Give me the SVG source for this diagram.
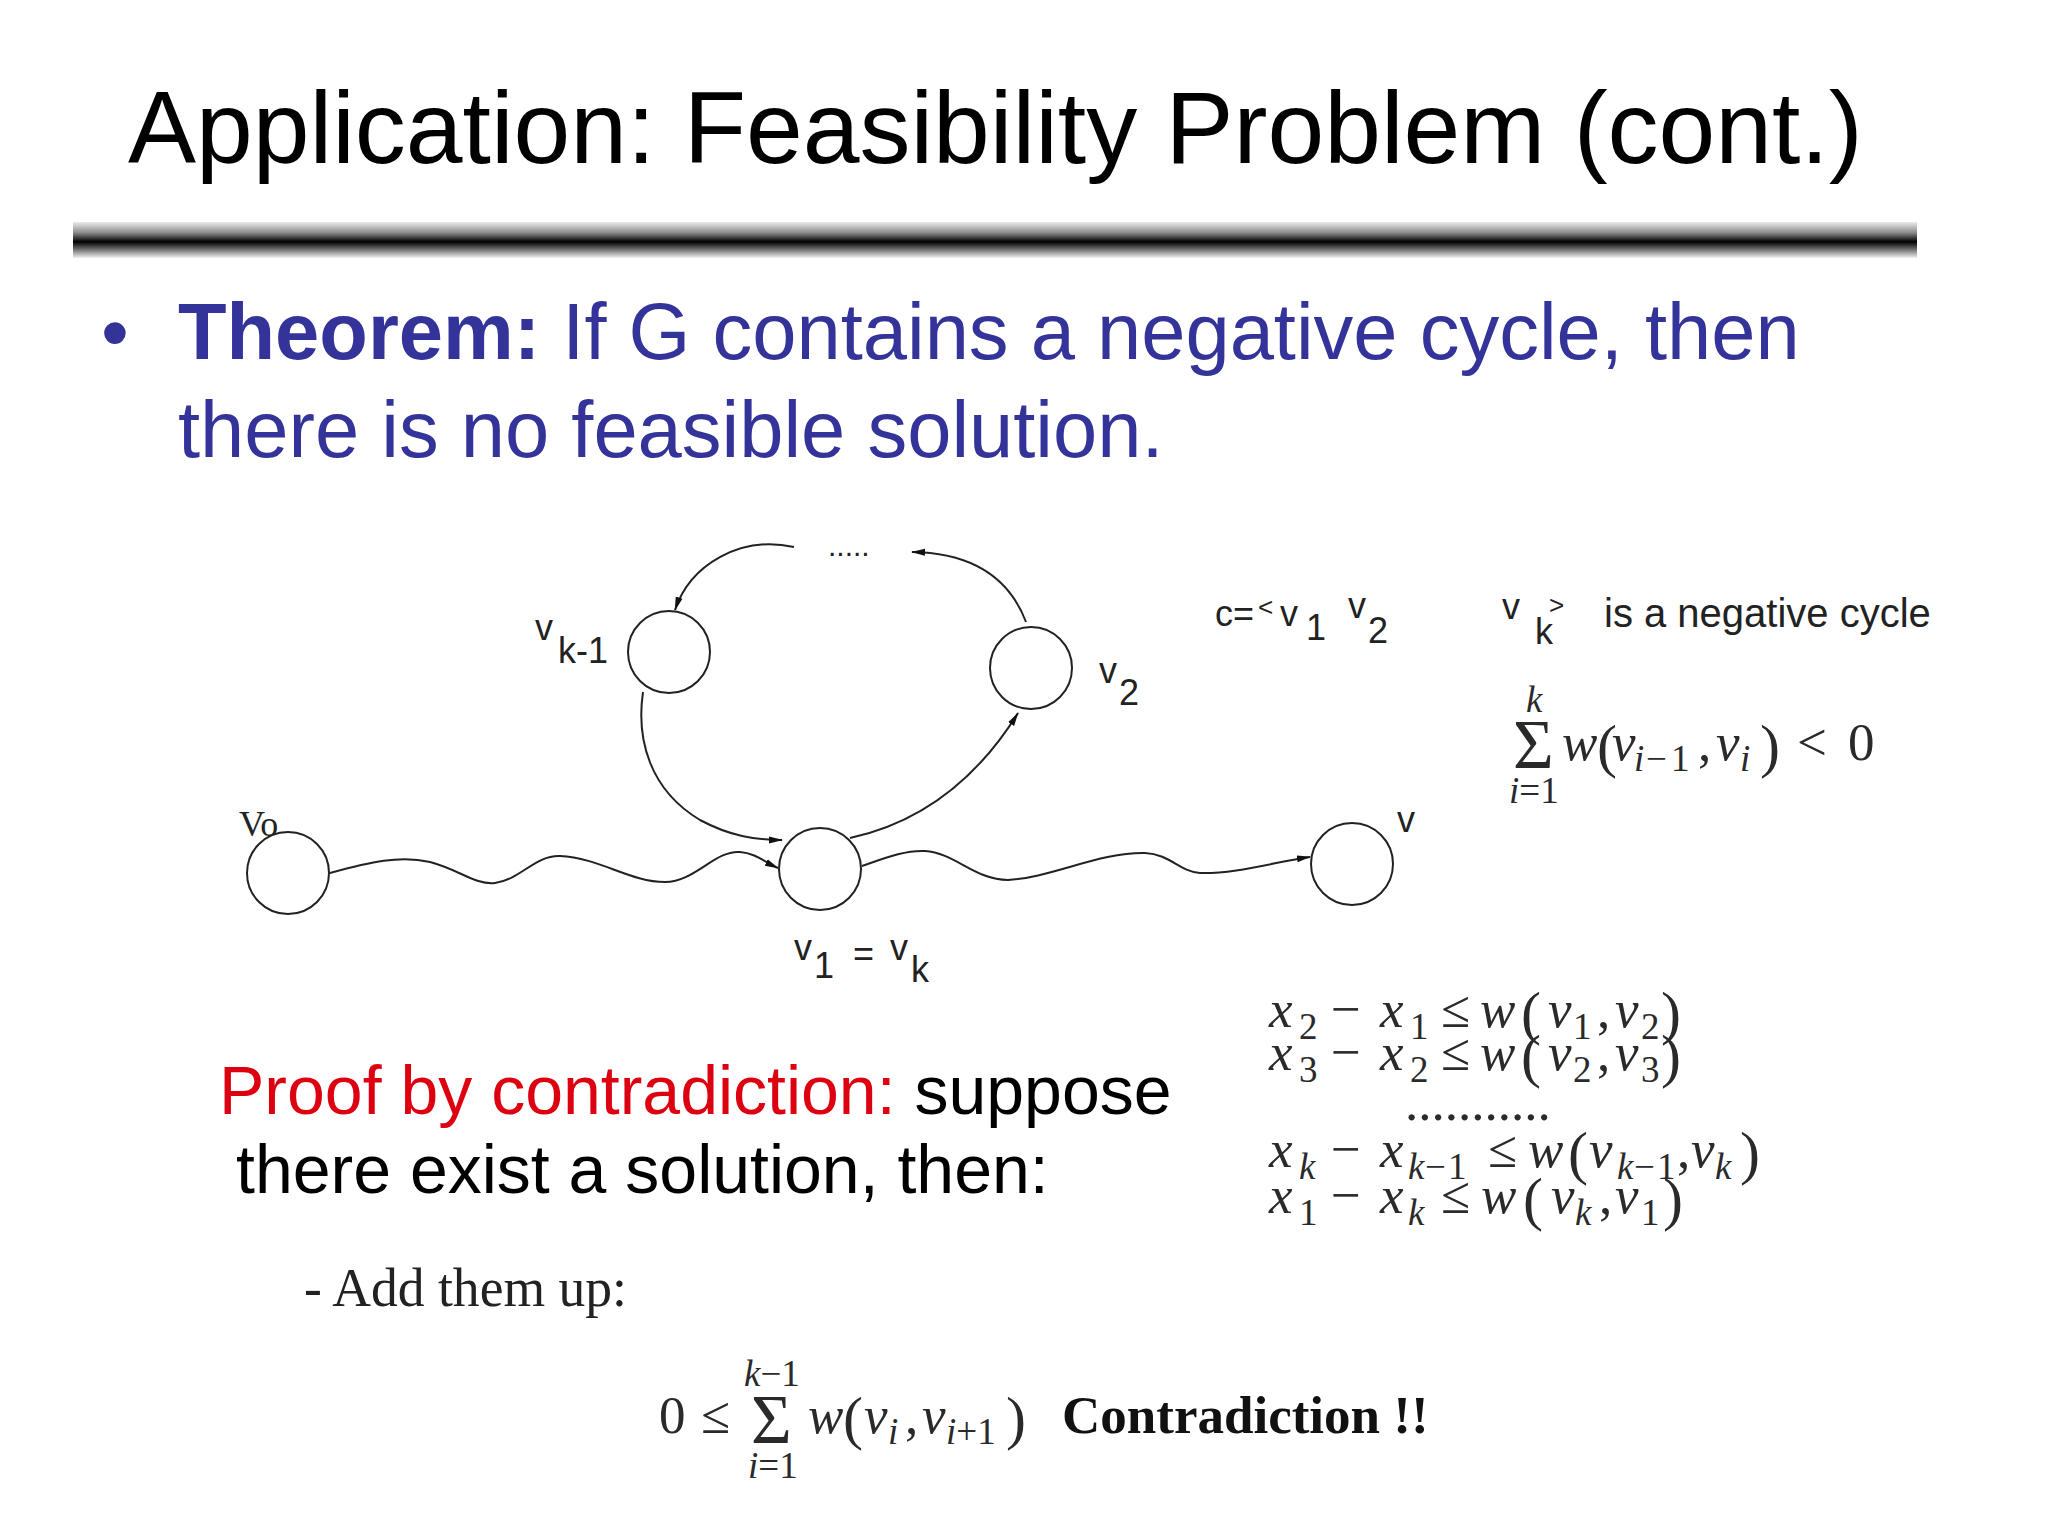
<svg xmlns="http://www.w3.org/2000/svg" width="2048" height="1536" viewBox="0 0 2048 1536">
<defs>
<linearGradient id="bar" x1="0" y1="0" x2="0" y2="1">
<stop offset="0" stop-color="#ececec"/>
<stop offset="0.3" stop-color="#8a8a8a"/>
<stop offset="0.55" stop-color="#000"/>
<stop offset="0.78" stop-color="#7a7a7a"/>
<stop offset="1" stop-color="#f2f2f2"/>
</linearGradient>
<marker id="arr" viewBox="0 0 14 10" refX="13" refY="5" markerWidth="14" markerHeight="10" markerUnits="userSpaceOnUse" orient="auto">
<path d="M0,1.5 L14,5 L0,8.5 z" fill="#111"/>
</marker>
</defs>
<style>
.sans{font-family:"Liberation Sans",Arial,sans-serif}
.serif{font-family:"Liberation Serif","Times New Roman",serif}
.title{font-size:102px;fill:#000}
.thm{font-size:79.5px;fill:#333399}
.proof{font-size:68px;fill:#000}
.lbl{font-size:36px;fill:#222}
.lbls{font-size:26px;fill:#222}
.m{font-size:53px;fill:#2a2a2a}
.i{font-style:italic}
.s{font-size:37px}
.p{font-size:60px}
.big{font-size:70px}
.node{fill:#fff;stroke:#222;stroke-width:2}
.edge{fill:none;stroke:#222;stroke-width:2}
</style>
<rect width="2048" height="1536" fill="#fff"/>

<text class="sans title" x="128" y="163">Application: Feasibility Problem (cont.)</text>
<rect x="73" y="222" width="1844" height="36" fill="url(#bar)"/>

<text class="sans thm" x="101" y="360">•</text>
<text class="sans thm" x="178" y="359"><tspan font-weight="bold">Theorem:</tspan> If G contains a negative cycle, then</text>
<text class="sans thm" x="178" y="457">there is no feasible solution.</text>

<g id="connectors">
<path class="edge" marker-end="url(#arr)" d="M330,873 C370,862 400,855 430,862 C460,870 475,885 495,883 C520,880 535,855 560,856 C600,858 630,882 665,882 C695,882 715,850 740,852 C755,853 765,862 778,868"/>
<path class="edge" marker-end="url(#arr)" d="M862,866 C885,858 905,850 925,851 C955,853 975,880 1008,880 C1050,878 1100,852 1145,853 C1170,854 1180,872 1200,873 C1235,874 1275,862 1310,857"/>
<path class="edge" marker-end="url(#arr)" d="M643,692 C636,740 650,790 700,820 C730,836 755,840 782,840"/>
<path class="edge" marker-end="url(#arr)" d="M850,838 C910,825 970,790 1018,713"/>
<path class="edge" marker-end="url(#arr)" d="M1026,622 C1010,580 975,553 912,552"/>
<path class="edge" marker-end="url(#arr)" d="M794,547 C740,535 690,565 675,610"/>
</g>
<text class="sans" x="828" y="556" font-size="30" fill="#222">.....</text>

<g id="node-v0">
<circle class="node" cx="288" cy="873" r="41"/>
<text class="serif lbl" x="239" y="836">Vo</text>
</g>
<g id="node-v1">
<circle class="node" cx="820" cy="869" r="41"/>
<text class="sans lbl"><tspan x="794" y="960">v</tspan><tspan x="814" y="978">1</tspan><tspan x="853" y="966">=</tspan><tspan x="890" y="960">v</tspan><tspan x="911" y="982">k</tspan></text>
</g>
<g id="node-v">
<circle class="node" cx="1352" cy="864" r="41"/>
<text class="sans lbl" x="1397" y="832">v</text>
</g>
<g id="node-vk1">
<circle class="node" cx="669" cy="652" r="41"/>
<text class="sans lbl"><tspan x="535" y="640">v</tspan><tspan x="558" y="663">k-1</tspan></text>
</g>
<g id="node-v2">
<circle class="node" cx="1031" cy="668" r="41"/>
<text class="sans lbl"><tspan x="1099" y="683">v</tspan><tspan x="1119" y="705">2</tspan></text>
</g>

<g id="cycle-def">
<text class="sans lbl"><tspan x="1215" y="626">c=</tspan><tspan class="lbls" x="1258" y="616">&lt;</tspan><tspan x="1280" y="626">v</tspan><tspan x="1306" y="640">1</tspan><tspan x="1348" y="618">v</tspan><tspan x="1368" y="643">2</tspan><tspan x="1502" y="619">v</tspan><tspan x="1535" y="644">k</tspan><tspan class="lbls" x="1549" y="614">&gt;</tspan></text>
<text class="sans" x="1604" y="627" font-size="40" fill="#222">is a negative cycle</text>
</g>

<g id="sum-neg">
<text class="serif m">
<tspan class="i s" x="1526" y="712">k</tspan>
<tspan class="big" x="1513" y="768">Σ</tspan>
<tspan class="s" x="1509" y="803"><tspan class="i">i</tspan>=1</tspan>
<tspan class="i" x="1562" y="760">w</tspan>
<tspan class="p" x="1597" y="766">(</tspan>
<tspan class="i" x="1612" y="760">v</tspan>
<tspan class="i s" x="1634" y="771">i</tspan>
<tspan class="s" x="1646" y="771">−</tspan>
<tspan class="s" x="1671" y="771">1</tspan>
<tspan x="1698" y="760">,</tspan>
<tspan class="i" x="1716" y="760">v</tspan>
<tspan class="i s" x="1740" y="771">i</tspan>
<tspan class="p" x="1760" y="766">)</tspan>
<tspan x="1797" y="760">&lt;</tspan>
<tspan x="1848" y="760">0</tspan>
</text>
</g>

<g id="constraints">
<text class="serif m"><tspan class="i" x="1269" y="1027">x</tspan><tspan class="s" x="1299" y="1039">2</tspan><tspan x="1331" y="1027">−</tspan><tspan class="i" x="1380" y="1027">x</tspan><tspan class="s" x="1410" y="1039">1</tspan><tspan x="1441" y="1027">≤</tspan><tspan class="i" x="1480" y="1027">w</tspan><tspan class="p" x="1521" y="1033">(</tspan><tspan class="i" x="1548" y="1027">v</tspan><tspan class="s" x="1573" y="1039">1</tspan><tspan x="1597" y="1027">,</tspan><tspan class="i" x="1615" y="1027">v</tspan><tspan class="s" x="1641" y="1039">2</tspan><tspan class="p" x="1661" y="1033">)</tspan></text>
<text class="serif m"><tspan class="i" x="1269" y="1070">x</tspan><tspan class="s" x="1299" y="1082">3</tspan><tspan x="1331" y="1070">−</tspan><tspan class="i" x="1380" y="1070">x</tspan><tspan class="s" x="1410" y="1082">2</tspan><tspan x="1441" y="1070">≤</tspan><tspan class="i" x="1480" y="1070">w</tspan><tspan class="p" x="1521" y="1076">(</tspan><tspan class="i" x="1548" y="1070">v</tspan><tspan class="s" x="1573" y="1082">2</tspan><tspan x="1597" y="1070">,</tspan><tspan class="i" x="1615" y="1070">v</tspan><tspan class="s" x="1641" y="1082">3</tspan><tspan class="p" x="1661" y="1076">)</tspan></text>
<text class="serif m" x="1405" y="1120">...........</text>
<text class="serif m"><tspan class="i" x="1269" y="1167">x</tspan><tspan class="i s" x="1299" y="1179">k</tspan><tspan x="1331" y="1167">−</tspan><tspan class="i" x="1380" y="1167">x</tspan><tspan class="i s" x="1408" y="1179">k</tspan><tspan class="s" x="1425" y="1179">−</tspan><tspan class="s" x="1448" y="1179">1</tspan><tspan x="1488" y="1167">≤</tspan><tspan class="i" x="1528" y="1167">w</tspan><tspan class="p" x="1568" y="1173">(</tspan><tspan class="i" x="1589" y="1167">v</tspan><tspan class="i s" x="1617" y="1179">k</tspan><tspan class="s" x="1634" y="1179">−</tspan><tspan class="s" x="1657" y="1179">1</tspan><tspan x="1677" y="1167">,</tspan><tspan class="i" x="1691" y="1167">v</tspan><tspan class="i s" x="1715" y="1179">k</tspan><tspan class="p" x="1740" y="1173">)</tspan></text>
<text class="serif m"><tspan class="i" x="1269" y="1213">x</tspan><tspan class="s" x="1299" y="1225">1</tspan><tspan x="1331" y="1213">−</tspan><tspan class="i" x="1380" y="1213">x</tspan><tspan class="i s" x="1408" y="1225">k</tspan><tspan x="1441" y="1213">≤</tspan><tspan class="i" x="1481" y="1213">w</tspan><tspan class="p" x="1523" y="1219">(</tspan><tspan class="i" x="1551" y="1213">v</tspan><tspan class="i s" x="1575" y="1225">k</tspan><tspan x="1599" y="1213">,</tspan><tspan class="i" x="1615" y="1213">v</tspan><tspan class="s" x="1641" y="1225">1</tspan><tspan class="p" x="1663" y="1219">)</tspan></text>
</g>

<g id="proof">
<text class="sans proof" x="219" y="1114"><tspan fill="#dd0011">Proof by contradiction:</tspan> suppose</text>
<text class="sans proof" x="236" y="1193">there exist a solution, then:</text>
<text class="serif" x="304" y="1306" font-size="54" fill="#222" textLength="323" lengthAdjust="spacingAndGlyphs">- Add them up:</text>
</g>

<g id="sum-final">
<text class="serif m">
<tspan x="659" y="1433">0</tspan>
<tspan x="701" y="1433">≤</tspan>
<tspan class="s" x="744" y="1386"><tspan class="i">k</tspan>−1</tspan>
<tspan class="big" x="751" y="1443">Σ</tspan>
<tspan class="s" x="748" y="1478"><tspan class="i">i</tspan>=1</tspan>
<tspan class="i" x="808" y="1433">w</tspan>
<tspan class="p" x="843" y="1438">(</tspan>
<tspan class="i" x="864" y="1433">v</tspan>
<tspan class="i s" x="888" y="1444">i</tspan>
<tspan x="905" y="1433">,</tspan>
<tspan class="i" x="922" y="1433">v</tspan>
<tspan class="s" x="946" y="1444"><tspan class="i">i</tspan>+1</tspan>
<tspan class="p" x="1006" y="1438">)</tspan>
</text>
<text class="serif" x="1062" y="1433" font-size="53" font-weight="bold" fill="#111">Contradiction !!</text>
</g>
</svg>
